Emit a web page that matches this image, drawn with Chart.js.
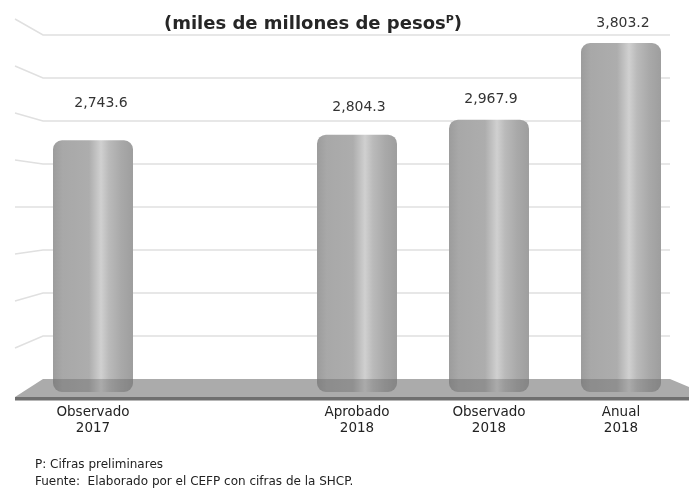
<!DOCTYPE html>
<html>
<head>
<meta charset="utf-8">
<script src="https://cdn.jsdelivr.net/npm/chart.js@4/dist/chart.umd.min.js"></script>
<style>
  html, body { margin: 0; padding: 0; background: #fff; }
  #wrap { position: relative; width: 689px; height: 493px; }
  #chart { position: absolute; left: 0; top: 0; }
  .title {
    position: absolute; left: 0; width: 626px; top: 12px; text-align: center;
    font: bold 18px "DejaVu Sans", sans-serif; color: #262626;
  }
  .title sup { font-size: 11px; vertical-align: 6px; }
  .note {
    position: absolute; left: 35px;
    font: 12px "DejaVu Sans", sans-serif; color: #222;
  }
</style>
</head>
<body>
<div id="wrap">
  <canvas id="chart" width="689" height="493"></canvas>
  <div class="title">(miles de millones de pesos<sup>P</sup>)</div>
  <div class="note" style="top:457px">P: Cifras preliminares</div>
  <div class="note" style="top:474px">Fuente:&nbsp; Elaborado por el CEFP con cifras de la SHCP.</div>
</div>
<script>
// ------------------------------------------------------------------
//  Data
// ------------------------------------------------------------------
const categories = [['Observado', '2017'], '', ['Aprobado', '2018'], ['Observado', '2018'], ['Anual', '2018']];
const values = [2743.6, null, 2804.3, 2967.9, 3803.2];
const gridValues = [500, 1000, 1500, 2000, 2500, 3000, 3500, 4000];

// label lift above each bar top (px), style only
const labelLift = [37, 0, 27, 20, 20];

const BAR_SHARE = 0.606;

function fmt(v) {
    return v.toLocaleString('en-US', { minimumFractionDigits: 1, maximumFractionDigits: 1 });
}

// cylinder shading, built from the x scale
function barFill(context) {
    const chart = context.chart;
    const xs = chart.scales.x;
    if (!chart.chartArea || !xs) return '#aaaaaa';
    const cx = xs.getPixelForValue(context.dataIndex);
    const w = xs.width / categories.length * BAR_SHARE;
    const g = chart.ctx.createLinearGradient(cx - w / 2, 0, cx + w / 2, 0);
    g.addColorStop(0, '#9c9c9c');
    g.addColorStop(0.12, '#a8a8a8');
    g.addColorStop(0.45, '#adadad');
    g.addColorStop(0.6, '#d0d0d0');
    g.addColorStop(0.7, '#bababa');
    g.addColorStop(0.85, '#a9a9a9');
    g.addColorStop(1, '#9e9e9e');
    return g;
}

// ------------------------------------------------------------------
//  Back wall grid + floor (3D look)
// ------------------------------------------------------------------
const wallPlugin = {
    id: 'wall',
    beforeDatasetsDraw(chart) {
        const { ctx, chartArea, scales } = chart;
        const y = scales.y;
        const base = y.getPixelForValue(0);
        const floorTop = base - 13;
        const depth = 0.9373;
        const gridY = v => floorTop + (y.getPixelForValue(v) - base) * depth;
        const mid = (gridY(0) + gridY(4000)) / 2;
        const xl = chartArea.left + 16, xr = chartArea.right - 17, xs = chartArea.left - 12;

        ctx.save();
        ctx.strokeStyle = '#e0e0e0';
        ctx.lineWidth = 1.5;
        gridValues.forEach(v => {
            const gy = gridY(v);
            const ly = mid + (gy - mid) * 1.093;
            ctx.beginPath();
            ctx.moveTo(xs, ly);
            ctx.lineTo(xl, gy);
            ctx.lineTo(xr, gy);
            ctx.stroke();
        });

        // floor
        const floorBot = base + 5;
        ctx.fillStyle = '#ababab';
        ctx.beginPath();
        ctx.moveTo(xl, floorTop);
        ctx.lineTo(xr, floorTop);
        ctx.lineTo(chart.width, floorTop + 8);
        ctx.lineTo(chart.width, floorBot);
        ctx.lineTo(xs, floorBot);
        ctx.closePath();
        ctx.fill();
        ctx.fillStyle = '#6f6f6f';
        ctx.fillRect(xs, floorBot, chart.width - xs, 3.5);
        ctx.restore();
    },
    afterDatasetsDraw(chart) {
        const { ctx, scales } = chart;
        const base = scales.y.getPixelForValue(0);
        const floorTop = base - 13;
        const meta = chart.getDatasetMeta(0);
        ctx.save();
        meta.data.forEach((bar, i) => {
            if (values[i] == null) return;
            const { x, y, width } = bar.getProps(['x', 'y', 'width'], true);
            // darker foot of the cylinder below the floor edge
            ctx.fillStyle = 'rgba(60,60,60,0.25)';
            ctx.beginPath();
            ctx.roundRect(x - width / 2, floorTop, width, base - floorTop, [0, 0, 9, 9]);
            ctx.fill();
            // value label
            ctx.fillStyle = '#333';
            ctx.font = '14px "DejaVu Sans", sans-serif';
            ctx.textAlign = 'center';
            ctx.textBaseline = 'middle';
            ctx.fillText(fmt(values[i]), x + (i === 0 ? 8 : 2), y - labelLift[i]);
        });
        ctx.restore();
    }
};

// ------------------------------------------------------------------
//  Chart
// ------------------------------------------------------------------
new Chart(document.getElementById('chart'), {
    type: 'bar',
    data: {
        labels: categories,
        datasets: [{
            data: values,
            backgroundColor: barFill,
            borderWidth: 0,
            borderSkipped: false,
            borderRadius: 9,
            barPercentage: BAR_SHARE,
            categoryPercentage: 1
        }]
    },
    options: {
        responsive: false,
        animation: false,
        layout: { padding: { left: 27, right: 2, top: 25, bottom: 41 } },
        plugins: { legend: { display: false }, tooltip: { enabled: false } },
        scales: {
            x: {
                grid: { display: false, drawTicks: false },
                border: { display: false },
                afterFit: s => { s.height = 60; },
                ticks: {
                    padding: 12,
                    color: '#222',
                    font: { family: 'DejaVu Sans', size: 13.5 }
                }
            },
            y: {
                display: false,
                min: 0,
                max: 4000
            }
        }
    },
    plugins: [wallPlugin]
});
</script>
</body>
</html>
